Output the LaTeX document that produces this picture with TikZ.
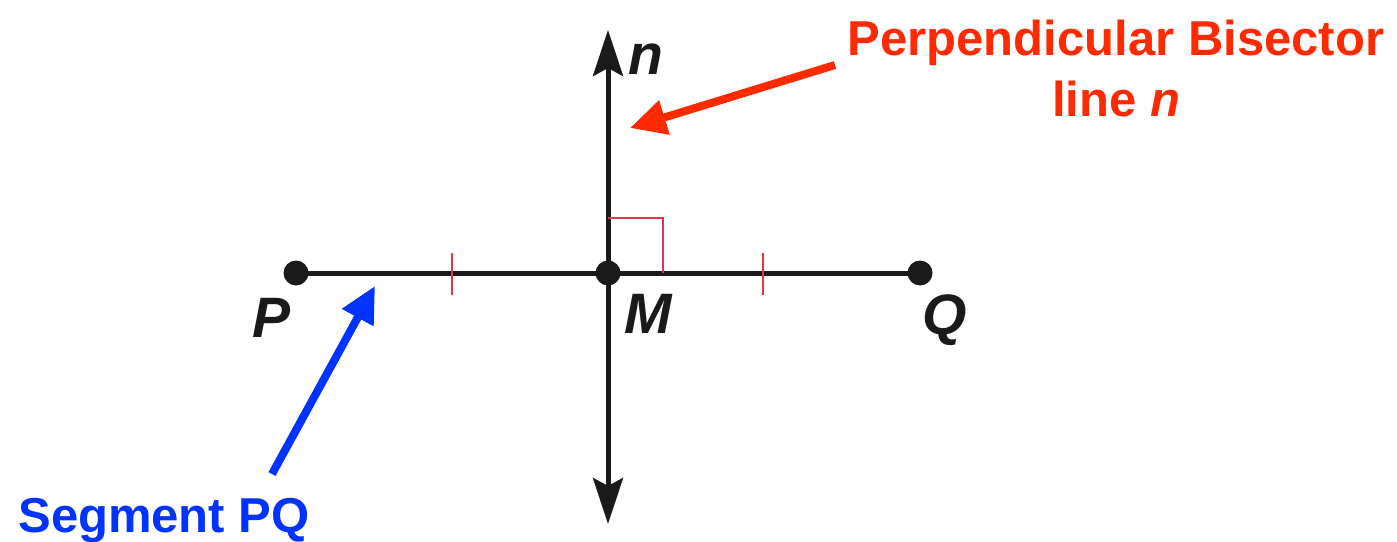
\documentclass[tikz,border=0pt]{standalone}
\usepackage{fontspec}
\setmainfont{Liberation Sans}
\usetikzlibrary{arrows.meta}
\definecolor{annred}{HTML}{FF2A00}
\definecolor{annblue}{HTML}{0033FF}
\definecolor{tickred}{HTML}{E43448}
\definecolor{ink}{HTML}{1A1A1A}
\tikzset{
  dotpt/.style={circle,fill=ink,inner sep=0pt,minimum size=25pt},
  geoline/.style={draw=ink,line width=5pt},
  geoarrow/.style={geoline,{Stealth[length=46pt,width=30pt,inset=8pt]}-{Stealth[length=46pt,width=30pt,inset=8pt]}},
  tickmark/.style={draw=tickred,line width=2pt},
  ptlabel/.style={font=\fontsize{57}{62}\selectfont\bfseries\itshape,text=ink,inner sep=0pt,anchor=base},
  annot/.style={font=\fontsize{49}{58}\selectfont\bfseries,inner sep=0pt,anchor=base},
  annarrow/.style={line width=8pt,-{Triangle[length=36pt,width=34pt]}}
}
\begin{document}
\begin{tikzpicture}[x=1pt,y=-1pt]
\useasboundingbox (0,0) rectangle (1397,541);
% geometry
\coordinate (ntop) at (608,30);
\coordinate (nbot) at (608,524);
\draw[geoarrow] (nbot) -- (ntop);
\node[dotpt] (P) at (296,273) {};
\node[dotpt] (Q) at (920,273) {};
\draw[geoline] (P.center) -- (Q.center);
\node[dotpt] (M) at (608,273) {};
% right angle
\coordinate (ra1) at (608,218);
\coordinate (ra2) at (663,218);
\coordinate (ra3) at (663,273);
\draw[tickmark] (ra1) -- (ra2) -- (ra3);
% congruence ticks
\coordinate (t1a) at (452,253); \coordinate (t1b) at (452,295);
\coordinate (t2a) at (763,253); \coordinate (t2b) at (763,295);
\draw[tickmark] (t1a) -- (t1b);
\draw[tickmark] (t2a) -- (t2b);
% labels
\node[ptlabel] (Plab) at (272,337) {P};
\node[ptlabel] (Mlab) at (648,333) {M};
\node[ptlabel] (Qlab) at (945,334) {Q};
\node[ptlabel] (nlab) at (646,74) {n};
% annotations
\node[annot,text=annred] (perp1) at (1116,55) {Perpendicular Bisector};
\node[annot,text=annred] (perp2) at (1116,116) {line \textit{n}};
\node[annot,text=annblue] (seg) at (164,532) {Segment PQ};
\coordinate (redtail) at (835,65);
\coordinate (redtip) at (630,128);
\draw[annarrow,draw=annred,fill=annred] (redtail) -- (redtip);
\coordinate (bluetail) at (272,474);
\coordinate (bluetip) at (375,286);
\draw[annarrow,draw=annblue,fill=annblue] (bluetail) -- (bluetip);
\end{tikzpicture}
\end{document}
